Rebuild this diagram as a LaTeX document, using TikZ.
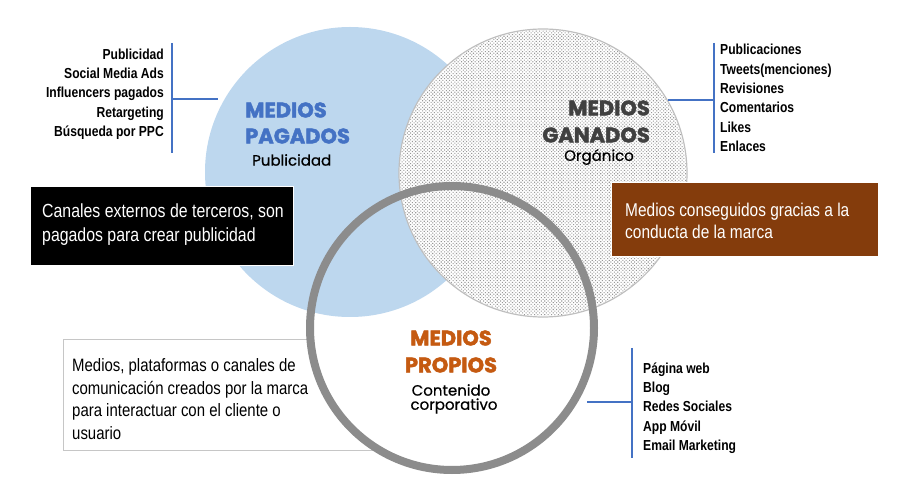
\documentclass[tikz,border=0pt]{standalone}
\usepackage{fontspec}
\setmainfont{Liberation Sans}
\newfontfamily\headfont{Poppins}[BoldFeatures={FakeBold=2}]
\newfontfamily\subfont{Poppins}[FakeBold=0.6]
\newfontfamily\narrowfont[FakeStretch=0.835]{Liberation Sans}
\usetikzlibrary{positioning,patterns.meta}
\definecolor{pagoblue}{HTML}{BDD7EE}
\definecolor{headblue}{HTML}{4472C4}
\definecolor{headgray}{HTML}{404040}
\definecolor{headorange}{HTML}{C55A11}
\definecolor{boxbrown}{HTML}{843C0C}
\definecolor{ringgray}{HTML}{8C8C8C}
\begin{document}
\begin{tikzpicture}[x=1pt,y=-1pt,
  head/.style={font=\headfont\bfseries\fontsize{21}{22}\selectfont,inner sep=0},
  sub/.style={font=\subfont\fontsize{15}{16}\selectfont,inner sep=0},
  items/.style={font=\narrowfont\bfseries\fontsize{14.5}{19.3}\selectfont,inner sep=0},
  note/.style={font=\narrowfont\fontsize{19}{24}\selectfont,inner sep=0,align=left,anchor=west},
  bracket/.style={draw=headblue,line width=1.6pt}]
\useasboundingbox (0,0) rectangle (903,486);
% propios description box, under the circles
\draw[gray!45,fill=white,line width=0.8pt] (63,339) rectangle (420,450);
\fill[white] (452,328) circle (142);
% the three circles
\fill[pagoblue] (350,172) circle (145);
\draw[gray!50,line width=1.2pt,fill=white] (543,173) circle (144);
\fill[pattern={Dots[distance=2.4pt,radius=0.75pt,angle=45]},pattern color=gray!80] (543,173) circle (143);
\draw[ringgray,line width=8pt] (452,328) circle (142);
% headings
\node[head,headblue,anchor=west] (pagA) at (245,110) {MEDIOS};
\node[head,headblue,anchor=west] (pagB) at (245,136) {PAGADOS};
\node[sub,anchor=west] (pagC) at (252,160) {Publicidad};
\node[head,headgray,anchor=east] (ganA) at (650,108) {MEDIOS};
\node[head,headgray,anchor=east] (ganB) at (650,135) {GANADOS};
\node[sub] (ganC) at (599,157) {Orgánico};
\node[head,headorange] (proA) at (451,338) {MEDIOS};
\node[head,headorange] (proB) at (451,365) {PROPIOS};
\node[sub] (proC) at (451,390) {Contenido};
\node[sub] (proD) at (454,406) {corporativo};
% description boxes
\draw[white,fill=black,line width=1pt] (30,187) rectangle (293,266);
\node[note,white] (pagNote) at (42,225) {Canales externos de terceros, son\\pagados para crear publicidad};
\draw[white,fill=boxbrown,line width=1pt] (611,183) rectangle (878,257);
\node[note,white,font=\narrowfont\fontsize{18.5}{22}\selectfont] (ganNote) at (625,221) {Medios conseguidos gracias a la\\conducta de la marca};
\node[note,font=\narrowfont\fontsize{17.9}{22.7}\selectfont] (proNote) at (72,399) {Medios, plataformas o canales de\\comunicación creados por la marca\\para interactuar con el cliente o\\usuario};
% item lists with brackets
\node[items,align=right,anchor=east] (pagList) at (164,94) {Publicidad\\Social Media Ads\\Influencers pagados\\Retargeting\\Búsqueda por PPC};
\coordinate (pagTop) at (172,43);
\coordinate (pagBot) at (172,153);
\coordinate (pagMid) at (172,99);
\coordinate (pagEnd) at (218,99);
\draw[bracket] (pagTop) -- (pagBot);
\draw[bracket] (pagMid) -- (pagEnd);
\node[items,align=left,anchor=west] (ganList) at (720,98) {Publicaciones\\Tweets(menciones)\\Revisiones\\Comentarios\\Likes\\Enlaces};
\coordinate (ganTop) at (714,43);
\coordinate (ganBot) at (714,153);
\coordinate (ganMid) at (714,100);
\coordinate (ganEnd) at (668,100);
\draw[bracket] (ganTop) -- (ganBot);
\draw[bracket] (ganMid) -- (ganEnd);
\node[items,align=left,anchor=west] (proList) at (643,408) {Página web\\Blog\\Redes Sociales\\App Móvil\\Email Marketing};
\coordinate (proTop) at (632,348);
\coordinate (proBot) at (632,458);
\coordinate (proMid) at (632,402);
\coordinate (proEnd) at (587,402);
\draw[bracket] (proTop) -- (proBot);
\draw[bracket] (proMid) -- (proEnd);
\end{tikzpicture}
\end{document}
